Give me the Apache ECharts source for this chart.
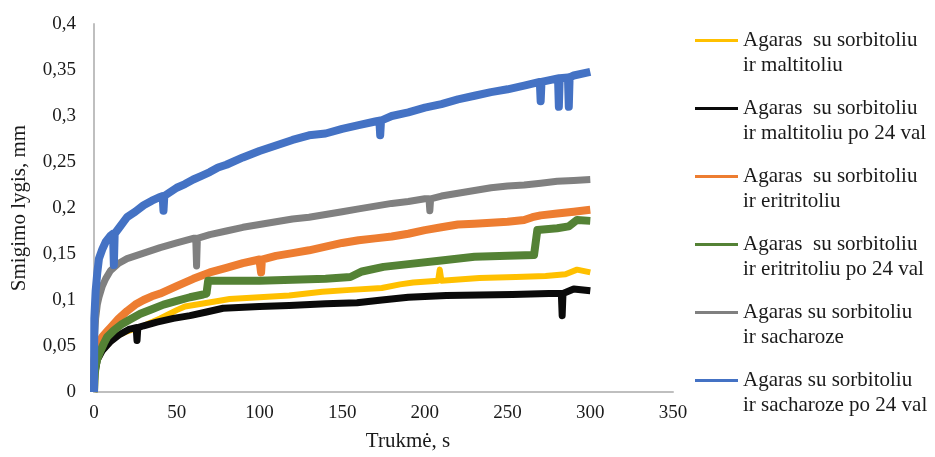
<!DOCTYPE html>
<html>
<head>
<meta charset="utf-8">
<script src="https://cdn.jsdelivr.net/npm/echarts@6/dist/echarts.min.js"></script>
<style>html,body{margin:0;padding:0;background:#fff}#c{width:935px;height:457px}</style>
</head>
<body>
<div id="c"></div>
<script>
// ---- Data ----
const seriesNames = [
  'Agaras  su sorbitoliu\nir maltitoliu',
  'Agaras  su sorbitoliu\nir maltitoliu po 24 val',
  'Agaras  su sorbitoliu\nir eritritoliu',
  'Agaras  su sorbitoliu\nir eritritoliu po 24 val',
  'Agaras su sorbitoliu\nir sacharoze',
  'Agaras su sorbitoliu\nir sacharoze po 24 val'
];
const xTicks = [0, 50, 100, 150, 200, 250, 300, 350];
const yTicks = [0, 0.05, 0.1, 0.15, 0.2, 0.25, 0.3, 0.35, 0.4];

const maltT = [0, 0.5, 2, 5, 10, 15, 20, 25, 30, 40, 50, 55, 65, 75, 82, 100, 118, 138, 155, 174, 185, 193, 208, 209, 210, 233, 255, 273, 285, 292, 300];
const maltV = [0, 0.02, 0.035, 0.045, 0.055, 0.062, 0.066, 0.069, 0.072, 0.08, 0.089, 0.093, 0.096, 0.099, 0.101, 0.103, 0.105, 0.109, 0.111, 0.113, 0.117, 0.119, 0.121, 0.133, 0.121, 0.124, 0.125, 0.126, 0.128, 0.133, 0.13];

const malt24T = [0, 0.5, 2, 5, 10, 15, 21, 25.5, 26, 26.5, 30, 38, 48, 58, 68, 78, 100, 118, 140, 159, 174, 190, 213, 253, 275, 282.5, 283, 283.5, 290, 300];
const malt24V = [0, 0.02, 0.035, 0.045, 0.055, 0.062, 0.068, 0.07, 0.056, 0.07, 0.072, 0.076, 0.08, 0.083, 0.087, 0.091, 0.093, 0.094, 0.096, 0.097, 0.1, 0.103, 0.105, 0.106, 0.107, 0.107, 0.083, 0.107, 0.112, 0.11];

const eritT = [0, 0.3, 1, 3, 5, 8, 10, 15, 20, 25, 30, 35, 40, 50, 60, 70, 80, 90, 100, 100.5, 101, 101.5, 110, 120, 130, 140, 150, 160, 170, 180, 190, 200, 210, 220, 230, 240, 250, 260, 265, 270, 280, 290, 300];
const eritV = [0, 0.035, 0.045, 0.053, 0.06, 0.066, 0.07, 0.08, 0.088, 0.095, 0.1, 0.104, 0.107, 0.115, 0.123, 0.13, 0.135, 0.14, 0.144, 0.144, 0.13, 0.144, 0.148, 0.151, 0.154, 0.158, 0.162, 0.165, 0.167, 0.169, 0.172, 0.176, 0.179, 0.182, 0.183, 0.184, 0.185, 0.187, 0.19, 0.192, 0.194, 0.196, 0.198];

const erit24T = [0, 0.5, 1, 2, 4, 6, 8, 12, 17, 22, 28, 35, 42, 50, 58, 66, 68, 69, 80, 100, 120, 140, 155, 162, 175, 190, 210, 230, 250, 266, 268, 280, 287, 292, 300];
const erit24V = [0, 0.02, 0.028, 0.036, 0.045, 0.053, 0.06, 0.067, 0.074, 0.079, 0.085, 0.09, 0.095, 0.099, 0.103, 0.106, 0.107, 0.121, 0.121, 0.121, 0.122, 0.123, 0.125, 0.131, 0.136, 0.139, 0.143, 0.147, 0.148, 0.149, 0.176, 0.178, 0.18, 0.187, 0.186];

const sachT = [0, 0.3, 1, 2, 3, 5, 7, 10, 15, 20, 30, 40, 50, 60, 61.5, 62, 62.5, 70, 80, 90, 100, 110, 120, 130, 140, 150, 160, 170, 180, 190, 200, 202.5, 203, 203.5, 210, 220, 230, 240, 250, 260, 270, 280, 290, 300];
const sachV = [0, 0.06, 0.08, 0.095, 0.103, 0.115, 0.123, 0.132, 0.14, 0.145, 0.151, 0.157, 0.162, 0.167, 0.167, 0.137, 0.167, 0.171, 0.175, 0.179, 0.182, 0.185, 0.188, 0.19, 0.193, 0.196, 0.199, 0.202, 0.205, 0.207, 0.21, 0.21, 0.197, 0.21, 0.213, 0.216, 0.219, 0.222, 0.224, 0.225, 0.227, 0.229, 0.23, 0.231];

const sach24T = [0, 0.2, 1, 2, 3, 5, 7, 10, 11.5, 12, 12.5, 15, 20, 25, 30, 35, 40, 41.5, 42, 42.5, 45, 50, 55, 60, 65, 70, 75, 80, 90, 100, 110, 120, 130, 140, 150, 160, 170, 172.5, 173, 173.5, 180, 190, 200, 210, 220, 230, 240, 250, 260, 269.5, 270, 270.5, 280.5, 281, 281.5, 286.5, 287, 287.5, 290, 300];
const sach24V = [0, 0.08, 0.11, 0.13, 0.145, 0.155, 0.163, 0.17, 0.172, 0.138, 0.172, 0.178, 0.19, 0.196, 0.203, 0.208, 0.212, 0.213, 0.197, 0.213, 0.216, 0.222, 0.226, 0.231, 0.235, 0.239, 0.244, 0.247, 0.255, 0.262, 0.268, 0.274, 0.279, 0.281, 0.286, 0.29, 0.294, 0.295, 0.279, 0.295, 0.3, 0.304, 0.309, 0.313, 0.318, 0.322, 0.326, 0.329, 0.333, 0.337, 0.316, 0.337, 0.341, 0.31, 0.341, 0.342, 0.31, 0.342, 0.344, 0.348];

const seriesT = [maltT, malt24T, eritT, erit24T, sachT, sach24T];
const seriesV = [maltV, malt24V, eritV, erit24V, sachV, sach24V];
const colors = ['#FFC000', '#0a0a0a', '#ED7D31', '#548235', '#808080', '#4472C4'];
const widths = [6, 7, 8, 8, 7, 8];

// ---- Chart ----
const FONT = "'Liberation Serif', 'Times New Roman', serif";
const chart = echarts.init(document.getElementById('c'), null, {renderer: 'canvas'});
const series = seriesNames.map((n, i) => ({
  name: n,
  type: 'line',
  showSymbol: false,
  symbol: 'none',
  data: seriesT[i].map((t, k) => [t, seriesV[i][k]]),
  lineStyle: {color: colors[i], width: widths[i], join: 'round'},
  itemStyle: {color: colors[i]},
  z: 2 + i
}));

chart.setOption({
  animation: false,
  backgroundColor: '#fff',
  textStyle: {fontFamily: FONT},
  grid: {left: 94, right: 262, top: 24, bottom: 62, containLabel: false},
  xAxis: {
    type: 'value', min: xTicks[0], max: xTicks[xTicks.length - 1], interval: 50,
    axisLine: {lineStyle: {color: '#bfbfbf', width: 2}},
    axisTick: {show: false},
    splitLine: {show: false},
    axisLabel: {color: '#1a1a1a', fontSize: 19, fontFamily: FONT, margin: 12},
    name: 'Trukmė, s', nameLocation: 'middle', nameGap: 39,
    nameTextStyle: {color: '#1a1a1a', fontSize: 21, fontFamily: FONT, padding: [0, 0, 0, 49]}
  },
  yAxis: {
    type: 'value', min: yTicks[0], max: yTicks[yTicks.length - 1], interval: 0.05,
    axisLine: {show: true, lineStyle: {color: '#bfbfbf', width: 2}},
    axisTick: {show: false},
    splitLine: {show: false},
    axisLabel: {color: '#1a1a1a', fontSize: 19, fontFamily: FONT, margin: 18,
      formatter: v => String(Math.round(v * 100) / 100).replace('.', ',')},
    name: 'Smigimo lygis, mm', nameLocation: 'middle', nameGap: 64,
    nameTextStyle: {color: '#1a1a1a', fontSize: 21, fontFamily: FONT}
  },
  legend: {
    orient: 'vertical', left: 695, top: 3, padding: 0,
    itemWidth: 43, itemHeight: 3, itemGap: -7,
    icon: 'rect', selectedMode: false,
    data: seriesNames,
    formatter: n => '\n' + n,
    textStyle: {color: '#1a1a1a', fontSize: 21, lineHeight: 25, fontFamily: FONT}
  },
  series: series
});
</script>
</body>
</html>
